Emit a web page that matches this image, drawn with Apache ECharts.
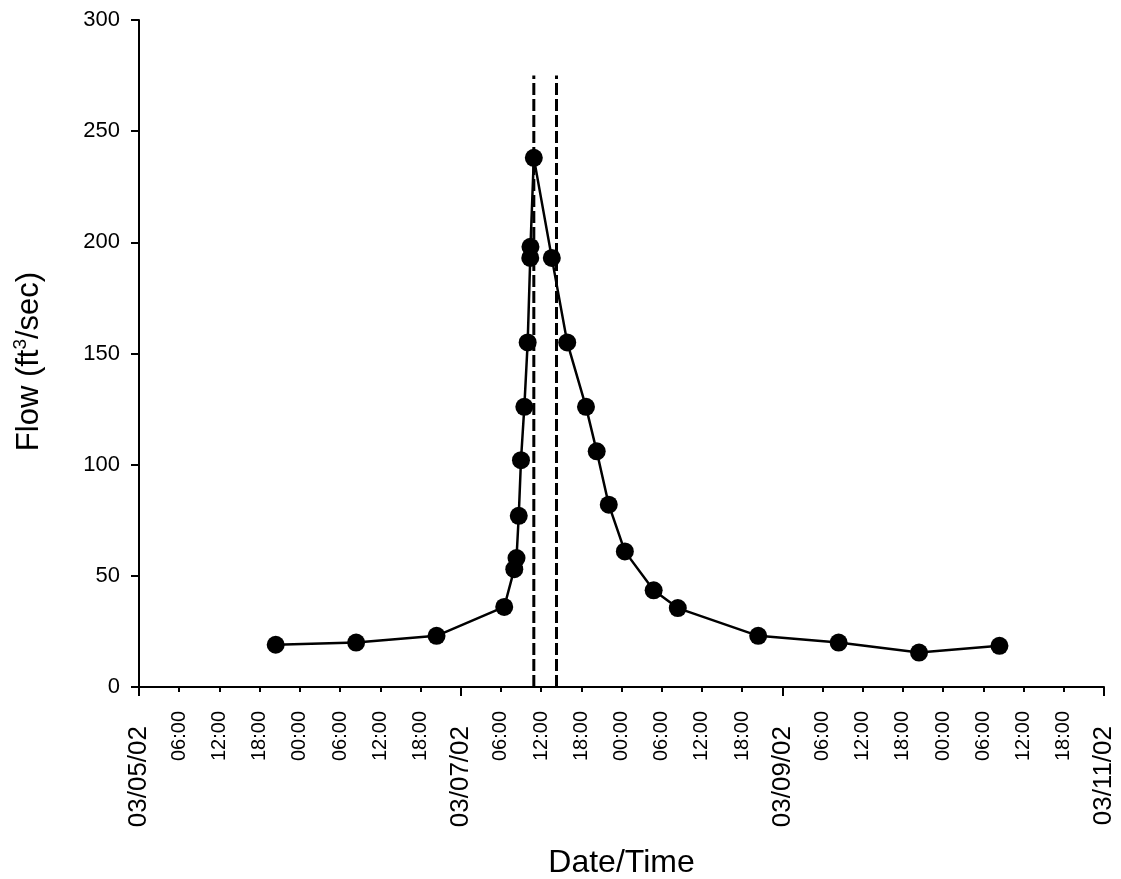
<!DOCTYPE html>
<html>
<head>
<meta charset="utf-8">
<script src="https://cdn.jsdelivr.net/npm/echarts@6/dist/echarts.min.js"></script>
<style>
  html, body { margin: 0; padding: 0; background: #ffffff; }
  #chart { width: 1121px; height: 879px; }
</style>
</head>
<body>
<div id="chart"></div>
<script>
// ---- data ----
// sample times (MM/DD HH:MM, 2002)
var sampleTimes = [
  '03/05 20:24', '03/06 08:24', '03/06 20:24', '03/07 06:30',
  '03/07 08:00', '03/07 08:20', '03/07 08:40', '03/07 09:00',
  '03/07 09:30', '03/07 10:00', '03/07 10:23', '03/07 10:25',
  '03/07 10:55', '03/07 13:36', '03/07 15:54', '03/07 18:42',
  '03/07 20:18', '03/07 22:06', '03/08 00:30', '03/08 04:48',
  '03/08 08:24', '03/08 20:24', '03/09 08:24', '03/09 20:24',
  '03/10 08:24'
];
// flow, ft^3/sec
var flowValues = [
  19, 20, 23, 36,
  53, 58, 77, 102,
  126, 155, 193, 198,
  238, 193, 155, 126,
  106, 82, 61, 43.5,
  35.5, 23, 20, 15.5,
  18.5
];
// dashed vertical marker lines (times) and their top value
var markerTimes = ['03/07 10:55', '03/07 14:18'];
var markerTop = 275;
var markerBottom = 0;

// axis setup
var startDay = 5;             // 03/05/02 00:00
var xMaxHours = 144;          // through 03/11/02 00:00
var xStepHours = 6;
var xDateStepHours = 48;
var yMax = 300;
var yStep = 50;

function toHours(s) {
  var day = parseInt(s.substr(3, 2), 10);
  var hh = parseInt(s.substr(6, 2), 10);
  var mm = parseInt(s.substr(9, 2), 10);
  return (day - startDay) * 24 + hh + mm / 60;
}
function pad(n) { return (n < 10 ? '0' : '') + n; }

var flowData = sampleTimes.map(function (t, i) { return [toHours(t), flowValues[i]]; });

var markerSeries = markerTimes.map(function (t) {
  var h = toHours(t);
  return {
    type: 'line',
    xAxisIndex: 0,
    data: [[h, markerBottom], [h, markerTop]],
    symbol: 'none',
    silent: true,
    lineStyle: { color: '#000', width: 3, type: [12, 4] },
    z: 1
  };
});

var font = 'Liberation Sans, Arial, Helvetica, sans-serif';

var chart = echarts.init(document.getElementById('chart'), null, { renderer: 'canvas' });
chart.setOption({
  animation: false,
  backgroundColor: '#ffffff',
  grid: { left: 139, right: 17, top: 20, bottom: 192, containLabel: false, outerBoundsMode: 'none' },
  xAxis: [{
    type: 'value',
    min: 0, max: xMaxHours, interval: xStepHours,
    name: 'Date/Time',
    nameLocation: 'middle',
    nameGap: 160,
    nameTextStyle: { fontFamily: font, fontSize: 32, color: '#000' },
    axisLine: { show: true, onZero: false, lineStyle: { color: '#000', width: 2 } },
    axisTick: { show: true, length: 5, lineStyle: { color: '#000', width: 2 } },
    splitLine: { show: false },
    axisLabel: {
      rotate: 90,
      margin: 24,
      color: '#000',
      fontFamily: font,
      formatter: function (v) {
        if (v % xDateStepHours === 0) {
          return '{d|03/' + pad(startDay + v / 24) + '/02}';
        }
        return '{t|' + pad(v % 24) + ':00}';
      },
      rich: {
        d: { fontFamily: font, fontSize: 26, color: '#000', padding: [0, 15, 0, 0] },
        t: { fontFamily: font, fontSize: 20, color: '#000' }
      }
    }
  }, {
    type: 'value',
    position: 'bottom',
    min: 0, max: xMaxHours, interval: xDateStepHours,
    axisLine: { show: false },
    axisTick: { show: true, length: 9, lineStyle: { color: '#000', width: 2 } },
    axisLabel: { show: false },
    splitLine: { show: false }
  }],
  yAxis: {
    type: 'value',
    min: 0, max: yMax, interval: yStep,
    name: '{n|Flow (ft}{s|3}{e|/sec)}',
    nameLocation: 'middle',
    nameGap: 92,
    nameRotate: 90,
    nameTextStyle: {
      fontFamily: font, color: '#000',
      rich: {
        n: { fontFamily: font, fontSize: 31, color: '#000', lineHeight: 36 },
        e: { fontFamily: font, fontSize: 31, color: '#000', lineHeight: 36, padding: [0, 16, 0, 0] },
        s: { fontFamily: font, fontSize: 19, color: '#000', lineHeight: 36, verticalAlign: 'top', padding: [0, 0, 12, 0] }
      }
    },
    axisLine: { show: true, lineStyle: { color: '#000', width: 2 } },
    axisTick: { show: true, length: 8, lineStyle: { color: '#000', width: 2 } },
    splitLine: { show: false },
    axisLabel: { margin: 19, color: '#000', fontFamily: font, fontSize: 22 }
  },
  series: markerSeries.concat([{
    type: 'line',
    data: flowData,
    symbol: 'circle',
    symbolSize: 18,
    itemStyle: { color: '#000' },
    lineStyle: { color: '#000', width: 2.5 },
    z: 3
  }])
});
</script>
</body>
</html>
